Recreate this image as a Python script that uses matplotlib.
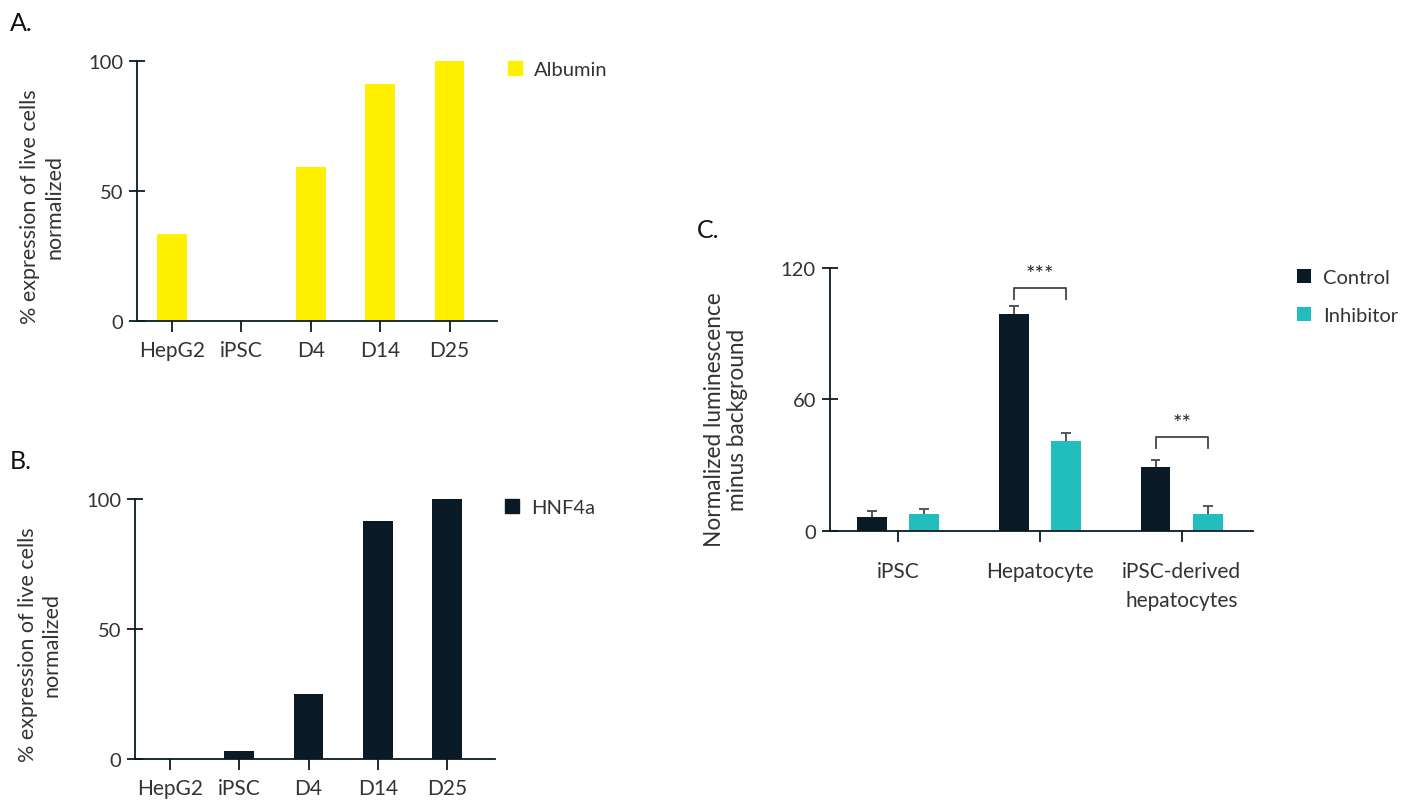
import numpy as np
import matplotlib.pyplot as plt
from matplotlib.patches import Patch

plt.rcParams['font.family'] = ['Lato', 'DejaVu Sans']
TEXT_COLOR = "#333333"
AXIS_COLOR = "#0a1a24"

# ---------------- data ----------------
stages = ["HepG2", "iPSC", "D4", "D14", "D25"]
albumin = [33.6, 0, 59.2, 91.2, 100]
hnf4a = [0, 3.2, 25.1, 91.6, 100]

cell_types = ["iPSC", "Hepatocyte", "iPSC-derived\nhepatocytes"]
control = [6.4, 99.0, 29.1]
control_err = [2.7, 3.6, 3.3]
inhibitor = [7.6, 41.0, 7.6]
inhibitor_err = [2.1, 3.5, 3.8]

YELLOW = "#fff000"
NAVY = "#0a1a24"
TEAL = "#22bdbd"

fig = plt.figure(figsize=(14.16, 8.03), dpi=100)


def style_axes(ax):
    ax.spines['top'].set_visible(False)
    ax.spines['right'].set_visible(False)
    for s in ['left', 'bottom']:
        ax.spines[s].set_color(AXIS_COLOR)
        ax.spines[s].set_linewidth(1.3)
    ax.tick_params(axis='x', colors=AXIS_COLOR, length=8, width=1.3,
                   labelsize=15, labelcolor=TEXT_COLOR, pad=6)
    ax.tick_params(axis='y', colors=AXIS_COLOR, length=12, width=1.3,
                   direction='inout', labelsize=14.5, labelcolor=TEXT_COLOR, pad=4)


def stage_panel(rect, values, color, legend_label, letter, letter_y):
    ax = fig.add_axes(rect)
    x = np.arange(len(stages))
    ax.bar(x, values, width=0.43, color=color)
    ax.set_xlim(-0.5, 4.68)
    ax.set_ylim(0, 100)
    ax.set_yticks([0, 50, 100])
    ax.set_xticks(x)
    ax.set_xticklabels(stages)
    style_axes(ax)
    ax.set_ylabel("% expression of live cells\nnormalized", fontsize=15.5,
                  color=TEXT_COLOR, linespacing=1.25)
    ax.yaxis.set_label_coords(-0.203, 0.442)
    ax.legend(handles=[Patch(color=color, label=legend_label)],
              loc='upper left', bbox_to_anchor=(1.03, 1.0), frameon=False,
              fontsize=14.5, handlelength=0.7, handleheight=0.7,
              handletextpad=0.6, borderpad=0, borderaxespad=0,
              labelcolor=TEXT_COLOR)
    fig.text(0.007, letter_y, letter, fontsize=18, color="#111111")
    return ax


ax_a = stage_panel([0.0968, 0.599, 0.254, 0.3238], albumin, YELLOW, "Albumin", "A.", 0.962)
ax_b = stage_panel([0.0953, 0.0535, 0.254, 0.3238], hnf4a, NAVY, "HNF4a", "B.", 0.416)

# ---------------- panel C ----------------
ax_c = fig.add_axes([0.586, 0.3379, 0.2987, 0.327])
xc = np.arange(len(cell_types))
off = 0.185
bw = 0.211
ax_c.bar(xc - off, control, width=bw, color=NAVY, label="Control")
ax_c.bar(xc + off, inhibitor, width=bw, color=TEAL, label="Inhibitor")

# upward-only error bars
for pos, vals, errs in [(xc - off, control, control_err), (xc + off, inhibitor, inhibitor_err)]:
    tops = np.array(vals) + np.array(errs)
    ax_c.vlines(pos, vals, tops, color="#555555", lw=1.4)
    ax_c.hlines(tops, pos - 0.035, pos + 0.035, color="#555555", lw=1.4)

ax_c.set_xlim(-0.48, 2.5)
ax_c.set_ylim(0, 120)
ax_c.set_yticks([0, 60, 120])
ax_c.set_xticks(xc)
ax_c.set_xticklabels(cell_types, linespacing=1.55)
style_axes(ax_c)
ax_c.tick_params(axis='x', pad=14)
ax_c.set_ylabel("Normalized luminescence\nminus background", fontsize=16.3,
                color=TEXT_COLOR, linespacing=1.1)
ax_c.yaxis.set_label_coords(-0.194, 0.425)
ax_c.legend(loc='upper left', bbox_to_anchor=(1.104, 0.997), frameon=False,
            fontsize=14.5, handlelength=0.7, handleheight=0.7,
            handletextpad=0.6, labelspacing=1.05, borderpad=0, borderaxespad=0,
            labelcolor=TEXT_COLOR)

# significance brackets
brackets = [(1, 105.8, 110.7, "***"), (2, 37.8, 42.6, "**")]
for gi, y_low, y_high, stars in brackets:
    x0, x1 = gi - off, gi + off
    ax_c.plot([x0, x0, x1, x1], [y_low, y_high, y_high, y_low],
              color="#444444", lw=1.3)
    ax_c.text((x0 + x1) / 2, y_high + 2.0, stars, ha='center', va='bottom',
              fontsize=16, color="#222222")

fig.text(0.492, 0.703, "C.", fontsize=18, color="#111111")

plt.savefig("out.png", dpi=100)
